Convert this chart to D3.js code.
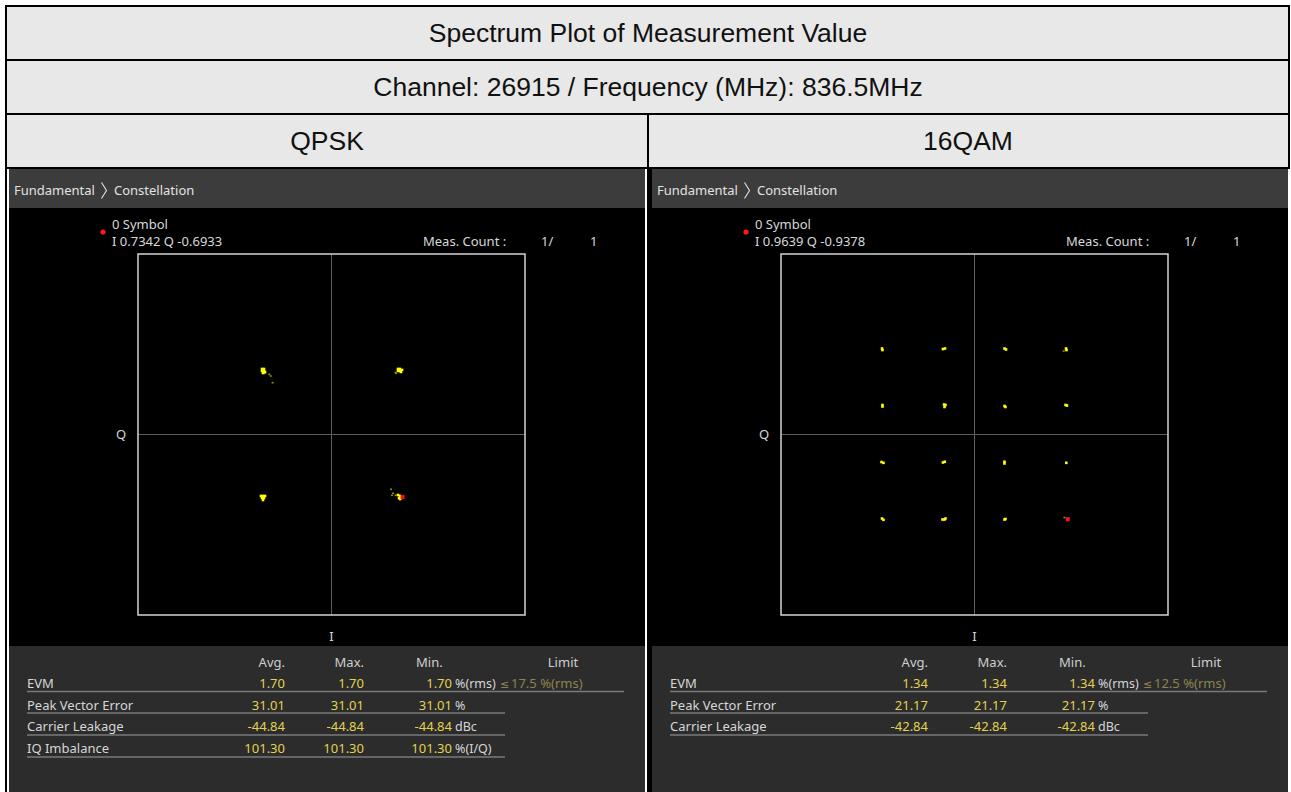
<!DOCTYPE html>
<html>
<head>
<meta charset="utf-8">
<script src="https://cdn.jsdelivr.net/npm/d3@7"></script>
<style>
  html, body { margin: 0; padding: 0; background: #ffffff; }
  svg { display: block; }
</style>
</head>
<body>
<svg id="chart" width="1291" height="792"></svg>
<script>
// ---- Report headings ----
const reportTitle = "Spectrum Plot of Measurement Value";
const channelLine = "Channel: 26915 / Frequency (MHz): 836.5MHz";
const modulations = ["QPSK", "16QAM"];

// ---- Constellation axis range (normalised I/Q) ----
const iqDomain = [-2, 2];

// ---- QPSK symbols (I, Q) ----
const qpskPoints = [
  [-0.718, 0.726], [-0.698, 0.726], [-0.718, 0.704], [-0.698, 0.704], [-0.708, 0.681], [-0.687, 0.693],
  [0.687, 0.726], [0.708, 0.726], [0.729, 0.715], [0.687, 0.704], [0.708, 0.704], [0.718, 0.693],
  [-0.729, -0.681], [-0.708, -0.681], [-0.687, -0.681], [-0.718, -0.704], [-0.698, -0.704], [-0.708, -0.726],
  [0.687, -0.670], [0.708, -0.681], [0.698, -0.704], [0.718, -0.704], [0.708, -0.715]
];
const qpskTrace = [
  [-0.688, 0.678], [-0.643, 0.667], [-0.628, 0.648], [-0.608, 0.574],
  [0.667, 0.678], [0.661, 0.687],
  [0.615, -0.607], [0.636, -0.652], [0.625, -0.674], [0.663, -0.674]
];
const qpskMarker = [0.7342, -0.6933];

// ---- 16QAM symbols (I, Q) ----
const qam16Points = [
  [-0.956, 0.953], [-0.951, 0.936],
  [-0.326, 0.947], [-0.305, 0.953],
  [0.310, 0.953], [0.326, 0.942],
  [0.946, 0.953], [0.951, 0.936],
  [-0.951, 0.327], [-0.951, 0.310],
  [-0.315, 0.332], [-0.300, 0.327], [-0.310, 0.305],
  [0.310, 0.316], [0.320, 0.305],
  [0.941, 0.327], [0.956, 0.321],
  [-0.961, -0.305], [-0.941, -0.314],
  [-0.326, -0.310], [-0.307, -0.302],
  [0.310, -0.302], [0.310, -0.321],
  [0.949, -0.314],
  [-0.956, -0.931], [-0.941, -0.945],
  [-0.331, -0.942], [-0.310, -0.942], [-0.300, -0.931],
  [0.310, -0.942], [0.320, -0.936]
];
const qam16Trace = [[0.922, 0.925], [0.930, -0.920]];
const qam16Marker = [0.9639, -0.9378];

// ---- Measurement summary tables ----
const tableColumns = ["Avg.", "Max.", "Min.", "Limit"];
const qpskRowNames = ["EVM", "Peak Vector Error", "Carrier Leakage", "IQ Imbalance"];
const qpskAvg = [1.70, 31.01, -44.84, 101.30];
const qpskMax = [1.70, 31.01, -44.84, 101.30];
const qpskMin = [1.70, 31.01, -44.84, 101.30];
const qpskUnits = ["%(rms)", "%", "dBc", "%(I/Q)"];
const qpskLimit = ["\u2264", "17.5 %(rms)"];

const qam16RowNames = ["EVM", "Peak Vector Error", "Carrier Leakage"];
const qam16Avg = [1.34, 21.17, -42.84];
const qam16Max = [1.34, 21.17, -42.84];
const qam16Min = [1.34, 21.17, -42.84];
const qam16Units = ["%(rms)", "%", "dBc"];
const qam16Limit = ["\u2264", "12.5 %(rms)"];

const measCount = ["1/", "1"];

// ---- Page frame ----
const svg = d3.select("#chart");
const W = 1291, H = 792;
const headFont = "'Liberation Sans', Arial, sans-serif";
const uiFont = "'Noto Sans', 'Open Sans', sans-serif";

const rows = [6, 60, 114, 168];
svg.append("rect").attr("x", 6).attr("y", 6).attr("width", 1283).attr("height", 162).attr("fill", "#e8e8e8");

// header texts
svg.append("text").attr("x", 648).attr("y", 42).attr("text-anchor", "middle")
  .attr("font-family", headFont).attr("font-size", 26.5).attr("fill", "#111").text(reportTitle);
svg.append("text").attr("x", 648).attr("y", 96).attr("text-anchor", "middle")
  .attr("font-family", headFont).attr("font-size", 26.5).attr("fill", "#111").text(channelLine);
modulations.forEach((m, k) => {
  svg.append("text").attr("x", k === 0 ? 327 : 968).attr("y", 150).attr("text-anchor", "middle")
    .attr("font-family", headFont).attr("font-size", 26.5).attr("fill", "#111").text(m);
});

// table grid lines
const grid = svg.append("g").attr("stroke", "#000").attr("stroke-width", 2).attr("fill", "none");
grid.append("line").attr("x1", 5).attr("x2", 1290).attr("y1", 6).attr("y2", 6);
rows.slice(1).forEach(y => grid.append("line").attr("x1", 5).attr("x2", 1290).attr("y1", y).attr("y2", y));
grid.append("line").attr("x1", 6).attr("x2", 6).attr("y1", 5).attr("y2", H);
grid.append("line").attr("x1", 1289).attr("x2", 1289).attr("y1", 5).attr("y2", 169);
grid.append("line").attr("x1", 648).attr("x2", 648).attr("y1", 114).attr("y2", H);
svg.append("rect").attr("x", 649).attr("y", 169).attr("width", 3).attr("height", H - 169).attr("fill", "#000");

// ---- One analyser panel ----
function drawPanel(originX, cfg) {
  const g = svg.append("g").attr("transform", `translate(${originX},169)`);
  const PW = 636;

  // header bar
  g.append("rect").attr("x", 0).attr("y", 0).attr("width", PW).attr("height", 39).attr("fill", "#3c3c3c");
  g.append("text").attr("x", 5).attr("y", 26).attr("font-family", uiFont).attr("font-size", 13)
    .attr("fill", "#e2e2e2").text("Fundamental");
  g.append("path").attr("d", "M92.5,13.5 L97.5,21.5 L92.5,29.5").attr("fill", "none")
    .attr("stroke", "#e2e2e2").attr("stroke-width", 1.1);
  g.append("text").attr("x", 105).attr("y", 26).attr("font-family", uiFont).attr("font-size", 13)
    .attr("fill", "#e2e2e2").text("Constellation");

  // plot area
  g.append("rect").attr("x", 0).attr("y", 39).attr("width", PW).attr("height", 438).attr("fill", "#000");

  const txt = (x, y, s, opts = {}) => g.append("text").attr("x", x).attr("y", y)
    .attr("font-family", uiFont).attr("font-size", opts.size || 13)
    .attr("fill", opts.fill || "#d8d8d8").attr("text-anchor", opts.anchor || "start").text(s);

  g.append("circle").attr("cx", 94).attr("cy", 63).attr("r", 2.6).attr("fill", "#ff1a1a");
  txt(103, 60, "0 Symbol");
  txt(103, 77, `I ${cfg.marker[0].toFixed(4)} Q ${cfg.marker[1].toFixed(4)}`);
  txt(414, 77, "Meas. Count :");
  txt(532, 77, measCount[0]);
  txt(581, 77, measCount[1]);

  const x = d3.scaleLinear().domain(iqDomain).range([129, 516]);
  const y = d3.scaleLinear().domain(iqDomain).range([446, 85]);

  // centre cross
  g.append("line").attr("x1", x(0)).attr("x2", x(0)).attr("y1", y(2)).attr("y2", y(-2))
    .attr("stroke", "#5e5e5e").attr("stroke-width", 1);
  g.append("line").attr("x1", x(-2)).attr("x2", x(2)).attr("y1", y(0)).attr("y2", y(0))
    .attr("stroke", "#5e5e5e").attr("stroke-width", 1);
  g.append("rect").attr("x", x(-2)).attr("y", y(2)).attr("width", x(2) - x(-2)).attr("height", y(-2) - y(2))
    .attr("fill", "none").attr("stroke", "#d4d4d4").attr("stroke-width", 1.5);

  txt(x(-2) - 17, y(0) + 4.5, "Q", { anchor: "middle" });
  txt(x(0), 472, "I", { anchor: "middle" });

  // symbols
  const sz = 2.6;
  g.append("g").selectAll("rect").data(cfg.trace).join("rect")
    .attr("x", d => x(d[0]) - 1).attr("y", d => y(d[1]) - 0.8)
    .attr("width", 2).attr("height", 1.6).attr("fill", "#8f8f00");
  g.append("g").selectAll("rect").data(cfg.points).join("rect")
    .attr("x", d => x(d[0]) - sz / 2).attr("y", d => y(d[1]) - sz / 2)
    .attr("width", sz).attr("height", sz).attr("fill", "#ffff00");
  g.append("rect").attr("x", x(cfg.marker[0]) - 2).attr("y", y(cfg.marker[1]) - 2)
    .attr("width", 4).attr("height", 4).attr("fill", "#ff1010");

  // measurement table
  g.append("rect").attr("x", 0).attr("y", 477).attr("width", PW).attr("height", 146).attr("fill", "#2c2c2c");
  const headY = 498;
  txt(276, headY, tableColumns[0], { anchor: "end", fill: "#cfcfcf" });
  txt(355, headY, tableColumns[1], { anchor: "end", fill: "#cfcfcf" });
  txt(407, headY, tableColumns[2], { fill: "#cfcfcf" });
  txt(554, headY, tableColumns[3], { anchor: "middle", fill: "#cfcfcf" });

  const valColor = "#e3d24e";
  const baseY = [519, 540.5, 562, 583.5];
  const lineY = [522.5, 544, 566, 588];
  cfg.rowNames.forEach((name, i) => {
    txt(18, baseY[i], name, { fill: "#d6d6d6" });
    txt(276, baseY[i], cfg.avg[i].toFixed(2), { anchor: "end", fill: valColor });
    txt(355, baseY[i], cfg.max[i].toFixed(2), { anchor: "end", fill: valColor });
    txt(443, baseY[i], cfg.min[i].toFixed(2), { anchor: "end", fill: valColor });
    txt(446, baseY[i], cfg.units[i], { fill: "#d6d6d6", size: 12.5 });
    if (i === 0) {
      g.append("text").attr("x", 491).attr("y", baseY[i])
        .attr("font-family", "'DejaVu Sans', sans-serif").attr("font-size", 11)
        .attr("fill", "#8c8450").text(cfg.limit[0]);
      txt(502, baseY[i], cfg.limit[1], { fill: "#8c8450", size: 13 });
    }
    g.append("line").attr("x1", 18).attr("x2", i === 0 ? 615 : 496)
      .attr("y1", lineY[i]).attr("y2", lineY[i]).attr("stroke", "#7a7a7a").attr("stroke-width", 1.5);
  });
}

drawPanel(9, {
  points: qpskPoints, trace: qpskTrace, marker: qpskMarker,
  rowNames: qpskRowNames, avg: qpskAvg, max: qpskMax, min: qpskMin, units: qpskUnits, limit: qpskLimit
});
drawPanel(652, {
  points: qam16Points, trace: qam16Trace, marker: qam16Marker,
  rowNames: qam16RowNames, avg: qam16Avg, max: qam16Max, min: qam16Min, units: qam16Units, limit: qam16Limit
});
</script>
</body>
</html>
